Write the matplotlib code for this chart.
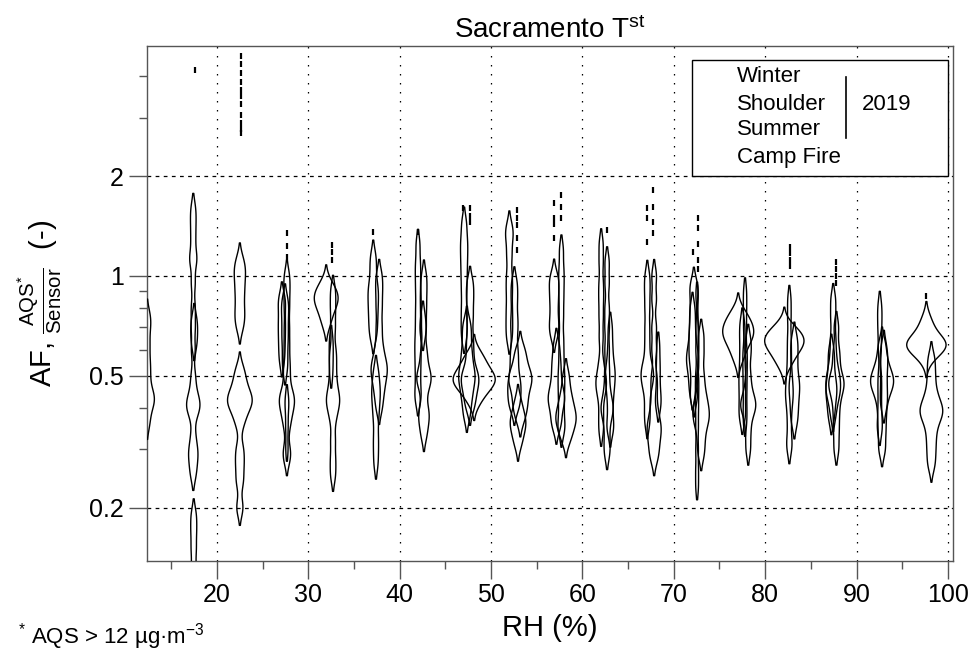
import numpy as np
import matplotlib.pyplot as plt
from matplotlib.patches import Rectangle
from matplotlib.lines import Line2D

plt.rcParams['font.family'] = ['Liberation Sans', 'DejaVu Sans']
plt.rcParams['mathtext.fontset'] = 'custom'
plt.rcParams['mathtext.rm'] = 'Liberation Sans'
plt.rcParams['mathtext.it'] = 'Liberation Sans:italic'
plt.rcParams['mathtext.bf'] = 'Liberation Sans:bold'

# RH position of each violin (median RH of the season inside the 5 % bin)
violin_rh = [12.35, 17.4, 17.5, 17.45, 22.5, 22.5,
             27.65, 27.1, 27.45, 27.65, 31.95, 32.7, 32.5,
             37.1, 37.75, 37.4, 42.0, 42.65, 42.55,
             47.05, 47.7, 48.15, 47.35, 52.0, 52.55, 53.2, 52.95,
             56.9, 57.7, 58.2, 57.15, 62.05, 62.7, 63.05,
             67.1, 67.85, 68.3, 72.2, 72.55, 73.0, 72.05,
             77.05, 77.8, 78.15, 77.5, 82.1, 82.65, 83.2,
             87.45, 87.8, 87.25, 92.8, 92.55, 93.0, 97.65, 98.2]

# relative number of hours in each violin
violin_n = [15, 25, 4, 6, 12, 25,
            22, 8, 8, 3, 14, 20, 3,
            12, 20, 10, 14, 20, 3,
            12, 20, 26, 18, 12, 18, 20, 10,
            10, 16, 16, 16, 16, 18, 12,
            16, 20, 5, 16, 8, 18, 12,
            20, 8, 14, 10, 22, 12, 12,
            16, 16, 10, 22, 8, 8, 20, 22]

# AF = AQS / Sensor values behind each violin
violin_af = [
    [0.36, 0.40, 0.42, 0.43, 0.45, 0.5, 0.55, 0.62, 0.7, 0.76],
    [1.6, 1.45, 1.3, 1.15, 1.1, 0.95, 0.8, 0.7, 0.6, 0.5, 0.45, 0.42, 0.41, 0.40, 0.38, 0.33, 0.3, 0.29, 0.27, 0.25],
    [0.62, 0.68, 0.74],
    [0.13, 0.15, 0.17, 0.19],
    [0.7, 0.75, 0.8, 0.87, 0.93, 1.0, 1.05, 1.12],
    [0.2, 0.24, 0.27, 0.3, 0.36, 0.39, 0.41, 0.42, 0.43, 0.45, 0.48, 0.52],
    [1.0, 0.9, 0.8, 0.7, 0.62, 0.55, 0.5, 0.45, 0.43, 0.42, 0.4, 0.38, 0.35, 0.3, 0.28],
    [0.55, 0.6, 0.65, 0.7, 0.75, 0.82, 0.86],
    [0.52, 0.57, 0.63, 0.68, 0.74, 0.8, 0.85],
    [0.3, 0.35, 0.4, 0.43],
    [0.72, 0.78, 0.82, 0.85, 0.87, 0.9, 0.95],
    [0.9, 0.8, 0.7, 0.6, 0.55, 0.5, 0.46, 0.43, 0.42, 0.4, 0.37, 0.32, 0.28, 0.25],
    [0.5, 0.55, 0.6, 0.65],
    [1.15, 1.05, 0.95, 0.9, 0.85, 0.8, 0.75, 0.7, 0.65],
    [1.0, 0.9, 0.8, 0.7, 0.62, 0.57, 0.54, 0.52, 0.5, 0.47, 0.44, 0.4],
    [0.52, 0.48, 0.45, 0.43, 0.4, 0.37, 0.33, 0.3, 0.27],
    [1.25, 1.1, 1.0, 0.9, 0.8, 0.72, 0.65, 0.6, 0.55, 0.5, 0.45, 0.42],
    [1.0, 0.9, 0.8, 0.7, 0.6, 0.55, 0.5, 0.5, 0.48, 0.45, 0.4, 0.38, 0.36, 0.33],
    [0.66, 0.7, 0.76],
    [1.45, 1.3, 1.2, 1.1, 1.0, 0.9, 0.8, 0.72, 0.65],
    [0.95, 0.85, 0.75, 0.65, 0.58, 0.52, 0.5, 0.48, 0.46, 0.43, 0.4],
    [0.42, 0.45, 0.47, 0.48, 0.49, 0.5, 0.52, 0.55, 0.58],
    [0.38, 0.42, 0.45, 0.48, 0.5, 0.52, 0.56, 0.6, 0.66, 0.72],
    [1.4, 1.3, 1.15, 1.0, 0.9, 0.8, 0.72, 0.65],
    [0.95, 0.85, 0.75, 0.68, 0.6, 0.55, 0.5, 0.47, 0.45, 0.42, 0.4],
    [0.6, 0.56, 0.52, 0.5, 0.49, 0.47, 0.45, 0.42, 0.4, 0.37],
    [0.42, 0.39, 0.37, 0.36, 0.35, 0.33, 0.31],
    [1.0, 0.95, 0.88, 0.82, 0.75, 0.7, 0.66],
    [1.2, 1.05, 0.95, 0.85, 0.75, 0.65, 0.58, 0.52, 0.48, 0.44, 0.4, 0.36, 0.34],
    [0.5, 0.45, 0.42, 0.4, 0.38, 0.37, 0.36, 0.34, 0.32],
    [0.62, 0.56, 0.52, 0.48, 0.45, 0.43, 0.42, 0.4, 0.37, 0.35],
    [1.25, 1.1, 0.95, 0.85, 0.75, 0.65, 0.55, 0.5, 0.48, 0.46, 0.43, 0.38, 0.34],
    [1.1, 0.95, 0.8, 0.7, 0.6, 0.52, 0.46, 0.42, 0.4, 0.39, 0.36, 0.32, 0.29],
    [0.7, 0.62, 0.56, 0.52, 0.5, 0.47, 0.44, 0.4, 0.36, 0.34],
    [1.0, 0.9, 0.8, 0.7, 0.62, 0.55, 0.52, 0.5, 0.48, 0.45, 0.4, 0.36],
    [1.0, 0.85, 0.7, 0.6, 0.5, 0.45, 0.4, 0.37, 0.35, 0.34, 0.32, 0.3, 0.28],
    [0.62, 0.55, 0.5, 0.45, 0.42, 0.4],
    [0.95, 0.9, 0.82, 0.76, 0.7, 0.66, 0.62, 0.58, 0.55, 0.5, 0.45, 0.42],
    [0.88, 0.7, 0.6, 0.5, 0.45, 0.4, 0.35, 0.3, 0.26, 0.23],
    [0.66, 0.58, 0.5, 0.45, 0.42, 0.4, 0.38, 0.37, 0.35, 0.32, 0.29],
    [0.8, 0.72, 0.65, 0.6, 0.57, 0.55, 0.52, 0.48, 0.44],
    [0.56, 0.6, 0.63, 0.65, 0.67, 0.68, 0.7, 0.72, 0.75, 0.78],
    [0.9, 0.8, 0.7, 0.6, 0.55, 0.5, 0.45, 0.4, 0.36],
    [0.64, 0.58, 0.5, 0.45, 0.42, 0.41, 0.4, 0.38, 0.34, 0.3],
    [0.72, 0.65, 0.58, 0.52, 0.48, 0.44, 0.4, 0.37],
    [0.54, 0.57, 0.6, 0.62, 0.63, 0.64, 0.66, 0.68, 0.7],
    [0.85, 0.75, 0.65, 0.58, 0.52, 0.48, 0.45, 0.43, 0.4, 0.36, 0.32, 0.3],
    [0.65, 0.6, 0.55, 0.5, 0.47, 0.45, 0.42, 0.39, 0.36],
    [0.85, 0.75, 0.65, 0.58, 0.53, 0.5, 0.48, 0.46, 0.44, 0.42, 0.38],
    [0.7, 0.6, 0.55, 0.5, 0.48, 0.47, 0.45, 0.42, 0.38, 0.34, 0.3],
    [0.6, 0.55, 0.5, 0.47, 0.45, 0.43, 0.4, 0.37],
    [0.62, 0.56, 0.52, 0.5, 0.48, 0.47, 0.45, 0.42, 0.38, 0.34, 0.3],
    [0.82, 0.75, 0.68, 0.6, 0.5, 0.45, 0.4, 0.36, 0.34],
    [0.62, 0.58, 0.55, 0.52, 0.48, 0.45, 0.42, 0.4],
    [0.56, 0.59, 0.6, 0.61, 0.62, 0.62, 0.63, 0.64, 0.66, 0.7, 0.74],
    [0.56, 0.5, 0.45, 0.42, 0.4, 0.39, 0.38, 0.36, 0.33, 0.3, 0.27],
]

# isolated high values, drawn as tiny beads
outlier_rh = [17.6] + [22.6] * 11 + [27.65] * 3 + [32.6] * 3 + [37.1, 42.0, 46.95] \
    + [47.7] * 3 + [52.85] * 5 + [56.9] * 4 + [57.7] * 3 + [62.7] + [67.1] * 3 \
    + [67.75] * 4 + [72.1] + [72.7] * 5 + [82.75] * 4 + [87.8] * 4 + [97.65]
outlier_af = [4.17,
              2.7, 2.78, 2.9, 3.05, 3.3, 3.5, 3.65, 3.85, 4.1, 4.35, 4.6,
              1.14, 1.23, 1.35,
              1.12, 1.18, 1.24,
              1.36, 1.36, 1.6,
              1.45, 1.52, 1.6,
              1.2, 1.3, 1.42, 1.5, 1.58,
              1.3, 1.43, 1.5, 1.66,
              1.5, 1.62, 1.76,
              1.38,
              1.27, 1.5, 1.6,
              1.35, 1.45, 1.62, 1.82,
              1.18,
              1.05, 1.12, 1.25, 1.4, 1.5,
              1.07, 1.12, 1.17, 1.22,
              0.95, 1.0, 1.05, 1.1,
              0.87]

legend_seasons = ['Winter', 'Shoulder', 'Summer', 'Camp Fire']
legend_year = '2019'


def kde_log(vals, bw=0.028, npts=400):
    # gaussian kde in log10 space, normalised to unit area
    lv = np.log10(np.asarray(vals, dtype=float))
    grid = np.linspace(lv.min() - 3 * bw, lv.max() + 3 * bw, npts)
    d = np.exp(-0.5 * ((grid[:, None] - lv[None, :]) / bw) ** 2).sum(axis=1)
    d = d / (len(lv) * bw * np.sqrt(2 * np.pi))
    return 10 ** grid, d


fig = plt.figure(figsize=(9.75, 6.55), dpi=100)
ax = fig.add_axes([0.1511, 0.144, 0.8264, 0.7858])

width_scale = 0.011
for rh, n, vals in zip(violin_rh, violin_n, violin_af):
    y, d = kde_log(vals)
    hw = width_scale * n * d
    ax.fill_betweenx(y, rh - hw, rh + hw, where=hw > 0.05,
                     facecolor='none', edgecolor='black', linewidth=1.0, zorder=3)

ax.plot(outlier_rh, outlier_af, linestyle='none', marker='|', markersize=4,
        markeredgewidth=1.6, color='black', zorder=3)

ax.set_yscale('log')
ax.set_xlim(12.37, 100.57)
ax.set_ylim(0.1384, 4.94)

ax.set_xticks(range(20, 101, 10))
ax.set_xticks(range(15, 100, 10), minor=True)
ax.set_yticks([0.2, 0.5, 1, 2], labels=['0.2', '0.5', '1', '2'])
ax.set_yticks([0.3, 0.4, 0.6, 0.7, 0.8, 0.9, 3, 4], labels=[''] * 8, minor=True)

ax.tick_params(which='both', direction='out', color='#555555', width=1, labelsize=18)
ax.tick_params(which='major', length=13)
ax.tick_params(which='minor', length=6)
ax.tick_params(axis='x', pad=3)
ax.tick_params(axis='y', pad=4)
for sp in ax.spines.values():
    sp.set_color('#555555')
    sp.set_linewidth(1)

ax.xaxis.grid(True, which='major', color='black', linewidth=0.9, linestyle=(0, (1.2, 6)), zorder=1)
ax.yaxis.grid(True, which='major', color='black', linewidth=0.9, linestyle=(0, (3, 3.5)), zorder=1)
ax.set_axisbelow(True)

ax.set_title(r'Sacramento T$^{\mathrm{st}}$', fontsize=20, pad=6)
ax.set_xlabel('RH (%)', fontsize=21, labelpad=5)
ax.set_ylabel(r'AF, $\frac{\mathrm{AQS}^{*}}{\mathrm{Sensor}}$  (-)', fontsize=21, labelpad=18)

# legend box
ax.add_patch(Rectangle((0.676, 0.747), 0.318, 0.226, transform=ax.transAxes,
                       facecolor='white', edgecolor='black', linewidth=1, zorder=4))
for lab, yy in zip(legend_seasons, [0.9398, 0.8854, 0.8368, 0.7843]):
    ax.text(0.732, yy, lab, transform=ax.transAxes, fontsize=16, va='center', zorder=5)
ax.add_line(Line2D([0.867, 0.867], [0.9398, 0.8217], transform=ax.transAxes,
                   color='black', linewidth=1.2, zorder=5))
ax.text(0.887, 0.8854, legend_year, transform=ax.transAxes, fontsize=16, va='center', zorder=5)

fig.text(0.018, 0.018, r'$^{*}$ AQS > 12 µg·m$^{-3}$', fontsize=16, va='baseline')

fig.savefig('out.png', dpi=100)
